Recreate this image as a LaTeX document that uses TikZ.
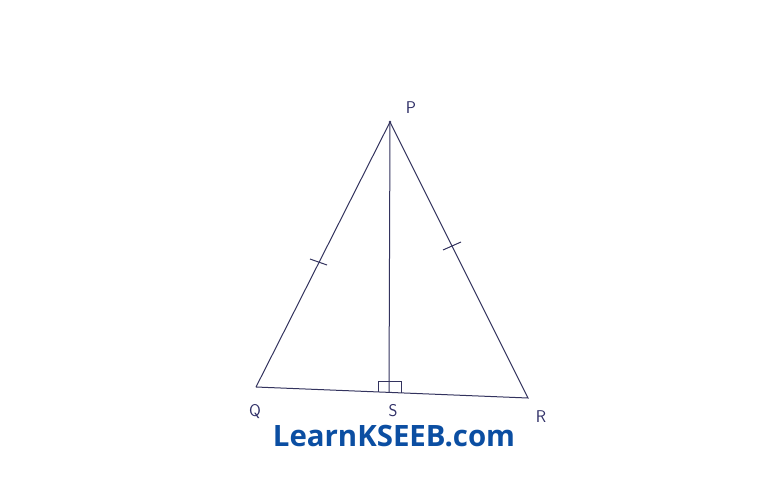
\documentclass[tikz,border=0pt]{standalone}
\usepackage{fontspec}
\setmainfont{Open Sans}
\begin{document}
\begin{tikzpicture}[x=1pt,y=-1pt,
  edge/.style={draw=linec,line width=1pt},
  lbl/.style={text=labc,font=\fontsize{17}{17}\selectfont\sffamily},
  tickm/.style={draw=linec,line width=1pt}]
\definecolor{linec}{HTML}{33335E}
\definecolor{labc}{HTML}{2E2E66}
\definecolor{brand}{HTML}{0B4EA2}
\useasboundingbox (0,0) rectangle (768,485);
\coordinate (P) at (390,122);
\coordinate (Q) at (256,387);
\coordinate (R) at (528,398);
\coordinate (S) at (389,392.4);
\draw[edge] (Q) -- (P) -- (R) -- (Q);
\draw[edge] (P) -- (S);
\fill[linec] (P) circle (1.4);
% right-angle mark
\coordinate (ra1) at (378,392);
\coordinate (ra2) at (378,381);
\coordinate (ra3) at (401,381);
\coordinate (ra4) at (401,393);
\draw[tickm] (ra1) -- (ra2) -- (ra3) -- (ra4);
% equal ticks
\coordinate (t1a) at (310,259);
\coordinate (t1b) at (327,265);
\draw[tickm] (t1a) -- (t1b);
\coordinate (t2a) at (443,250);
\coordinate (t2b) at (461,242);
\draw[tickm] (t2a) -- (t2b);
\node[lbl] (lP) at (411,108) {P};
\node[lbl] (lQ) at (255,412) {Q};
\node[lbl] (lS) at (393,411) {S};
\node[lbl] (lR) at (541,417) {R};
\node[text=brand,font=\fontsize{29.4}{29.4}\selectfont\bfseries] (brandtext) at (394,436) {LearnKSEEB.com};
\end{tikzpicture}
\end{document}
